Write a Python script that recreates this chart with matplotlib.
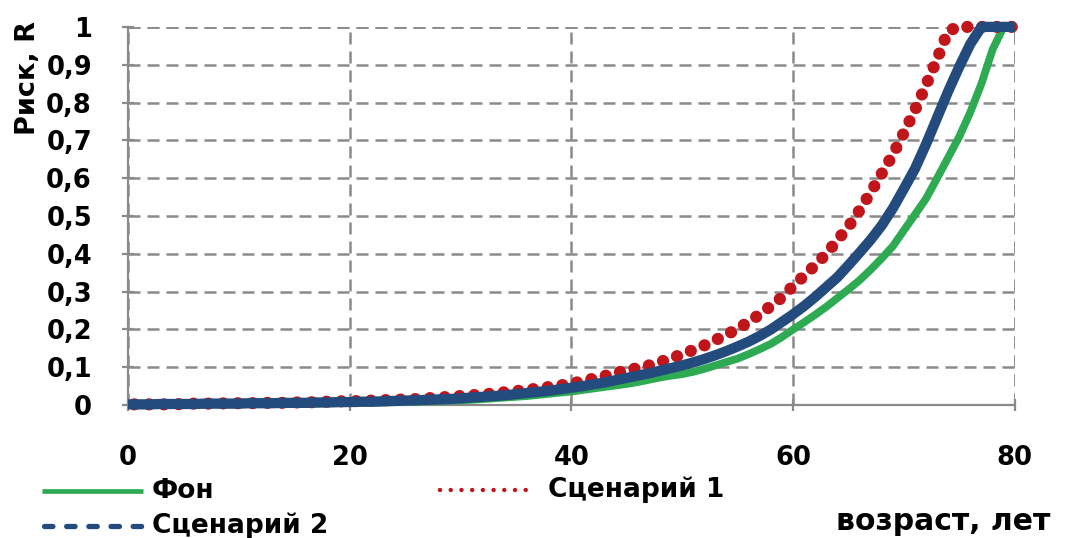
import numpy as np
import matplotlib
matplotlib.use('Agg')
import matplotlib.pyplot as plt
from matplotlib.lines import Line2D

# возраст, лет
ages = list(range(0, 81))

# Фон
fon = [0.001, 0.001, 0.001, 0.001, 0.001, 0.001, 0.002, 0.002, 0.002, 0.002,
       0.002, 0.003, 0.003, 0.003, 0.003, 0.004, 0.004, 0.004, 0.005, 0.005,
       0.006, 0.006, 0.007, 0.007, 0.008, 0.009, 0.009, 0.010, 0.011, 0.012,
       0.013, 0.014, 0.016, 0.018, 0.020, 0.022, 0.024, 0.027, 0.030, 0.033,
       0.036, 0.040, 0.044, 0.048, 0.052, 0.056, 0.061, 0.067, 0.073, 0.078,
       0.082, 0.088, 0.096, 0.105, 0.114, 0.123, 0.135, 0.148, 0.162, 0.180,
       0.200, 0.219, 0.239, 0.260, 0.283, 0.306, 0.330, 0.358, 0.388, 0.420,
       0.462, 0.504, 0.546, 0.600, 0.655, 0.710, 0.775, 0.850, 0.940, 1.000,
       1.000]

# Сценарий 1
sc1 = [0.002, 0.002, 0.002, 0.002, 0.002, 0.003, 0.004, 0.004, 0.004, 0.005,
       0.005, 0.005, 0.006, 0.006, 0.006, 0.007, 0.007, 0.008, 0.009, 0.010,
       0.010, 0.011, 0.012, 0.013, 0.014, 0.015, 0.016, 0.018, 0.020, 0.022,
       0.024, 0.026, 0.028, 0.031, 0.034, 0.037, 0.040, 0.044, 0.048, 0.052,
       0.057, 0.063, 0.070, 0.077, 0.085, 0.092, 0.098, 0.105, 0.114, 0.124,
       0.134, 0.146, 0.158, 0.172, 0.186, 0.202, 0.220, 0.240, 0.262, 0.285,
       0.315, 0.342, 0.370, 0.400, 0.436, 0.472, 0.515, 0.562, 0.612, 0.662,
       0.720, 0.780, 0.846, 0.915, 0.990, 1.000, 1.000, 1.000, 1.000, 1.000,
       1.000]

# Сценарий 2
sc2 = [0.002, 0.002, 0.002, 0.003, 0.003, 0.003, 0.003, 0.004, 0.004, 0.004,
       0.004, 0.005, 0.005, 0.005, 0.006, 0.006, 0.006, 0.007, 0.007, 0.008,
       0.008, 0.009, 0.009, 0.010, 0.011, 0.012, 0.013, 0.014, 0.015, 0.016,
       0.018, 0.020, 0.022, 0.024, 0.026, 0.029, 0.032, 0.035, 0.038, 0.042,
       0.046, 0.050, 0.055, 0.060, 0.066, 0.072, 0.078, 0.084, 0.091, 0.098,
       0.105, 0.113, 0.122, 0.132, 0.143, 0.155, 0.168, 0.183, 0.200, 0.220,
       0.240, 0.262, 0.286, 0.312, 0.338, 0.370, 0.403, 0.437, 0.475, 0.520,
       0.572, 0.625, 0.690, 0.760, 0.830, 0.895, 0.955, 1.000, 1.000, 1.000,
       1.000]

x_ticks = [0, 20, 40, 60, 80]
y_ticks = [0, 0.1, 0.2, 0.3, 0.4, 0.5, 0.6, 0.7, 0.8, 0.9, 1]
y_labels = ['0', '0,1', '0,2', '0,3', '0,4', '0,5', '0,6', '0,7', '0,8', '0,9', '1']

green = '#2eaa52'
red = '#c0161b'
blue = '#234b7d'
grey = '#8a8a8a'

plt.rcParams['font.family'] = ['DejaVu Sans']
plt.rcParams['font.weight'] = 'bold'

fig = plt.figure(figsize=(10.67, 5.38), dpi=100)
ax = fig.add_axes([0.12, 0.247, 0.831, 0.703])

ax.plot(ages, fon, color=green, lw=5.6, solid_capstyle='butt', zorder=3,
        clip_on=False)
ax.plot(ages, sc1, color=red, lw=8.8, linestyle=(0.7, (0.01, 1.2)),
        dash_capstyle='round', zorder=4, clip_on=False)
ax.plot(ages, sc2, color=blue, lw=7.4, solid_capstyle='butt', zorder=5,
        clip_on=False)

ax.set_xlim(0, 80)
ax.set_ylim(0, 1)
ax.set_xticks(x_ticks)
ax.set_xticklabels([str(v) for v in x_ticks])
ax.set_yticks(y_ticks)
ax.set_yticklabels(y_labels)

for s in ['top', 'right']:
    ax.spines[s].set_visible(False)
for s in ['left', 'bottom']:
    ax.spines[s].set_color(grey)
    ax.spines[s].set_linewidth(1.6)

ax.tick_params(axis='both', direction='inout', length=8, width=1.6, color=grey,
               labelsize=18.5)
ax.tick_params(axis='x', pad=25)
ax.tick_params(axis='y', pad=22)
for lab in ax.get_xticklabels() + ax.get_yticklabels():
    lab.set_fontweight('bold')

ax.grid(True, color=grey, linestyle=(0, (4.8, 2.8)), linewidth=1.8)
ax.set_axisbelow(True)
# верхняя и правая пунктирные линии сетки
ax.axhline(1, color=grey, linestyle=(0, (4.8, 2.8)), linewidth=1.8, zorder=0.5)
ax.axvline(80, color=grey, linestyle=(0, (4.8, 2.8)), linewidth=1.8, zorder=0.5)

fig.text(0.026, 1 - 78 / 538, 'Риск, R', rotation=90, ha='center', va='center',
         fontsize=19.5, fontweight='bold')
fig.text(1050 / 1067, 1 - 521 / 538, 'возраст, лет', ha='right', va='center',
         fontsize=21.5, fontweight='bold')

# легенда вручную
W, H = 1067.0, 538.0
def leg_line(x0, x1, y, **kw):
    fig.add_artist(Line2D([x0 / W, x1 / W], [1 - y / H, 1 - y / H],
                          transform=fig.transFigure, **kw))

leg_line(42, 143, 491, color=green, lw=3.4, solid_capstyle='butt')
leg_line(440, 530, 490, color=red, lw=3.2, linestyle=(0, (0.01, 2.4)),
         dash_capstyle='round')
leg_line(44, 143, 526, color=blue, lw=3.8, linestyle=(0, (1.6, 2.6)),
         dash_capstyle='round')
fig.text(152 / W, 1 - 491 / H, 'Фон', ha='left', va='center', fontsize=19,
         fontweight='bold')
fig.text(548 / W, 1 - 490 / H, 'Сценарий 1', ha='left', va='center', fontsize=19,
         fontweight='bold')
fig.text(152 / W, 1 - 526 / H, 'Сценарий 2', ha='left', va='center', fontsize=19,
         fontweight='bold')

fig.savefig('out.png', dpi=100)
